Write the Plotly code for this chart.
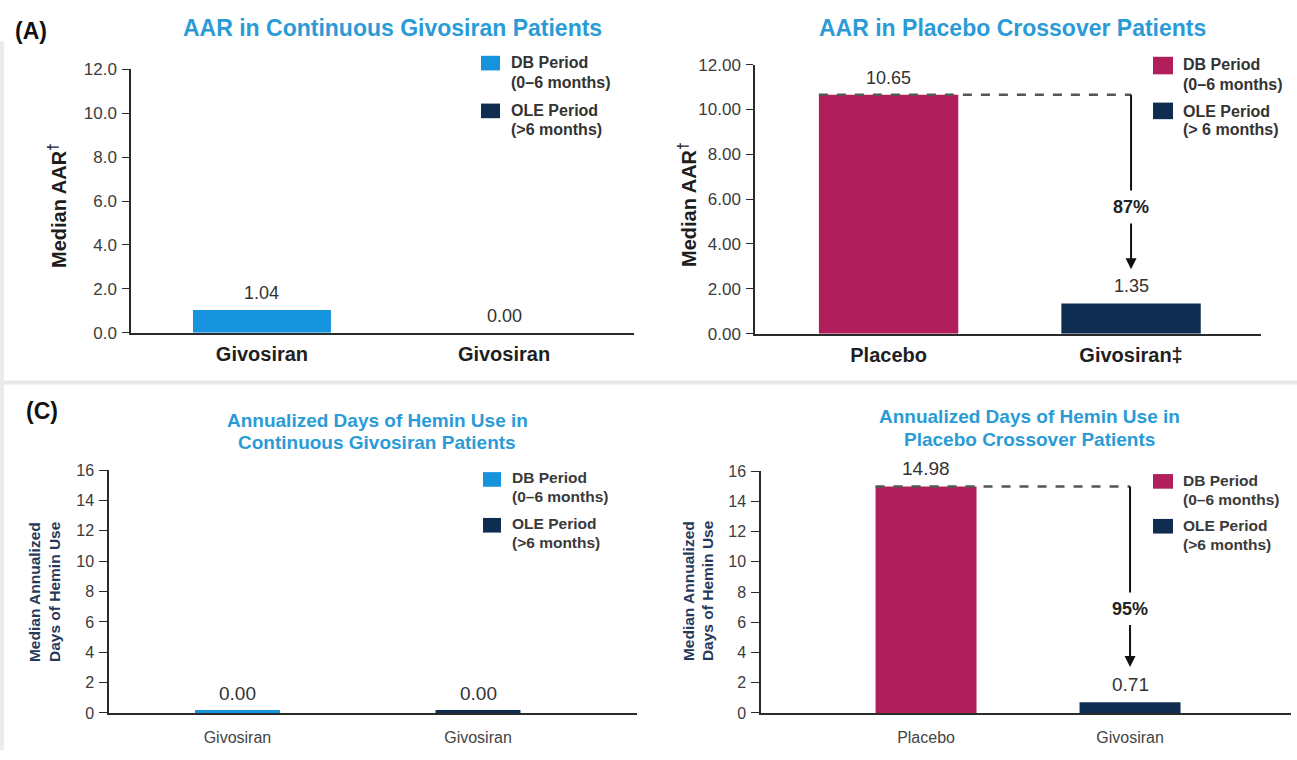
import plotly.graph_objects as go

W, H = 1297, 760

# ---------------- data ----------------
aar_cont_labels = ["Givosiran", "Givosiran"]
aar_cont_values = [1.04, 0.00]

aar_cross_labels = ["Placebo", "Givosiran‡"]
aar_cross_values = [10.65, 1.35]
aar_cross_reduction = "87%"

hemin_cont_labels = ["Givosiran", "Givosiran"]
hemin_cont_values = [0.00, 0.00]

hemin_cross_labels = ["Placebo", "Givosiran"]
hemin_cross_values = [14.98, 0.71]
hemin_cross_reduction = "95%"

db_label = ["DB Period", "(0–6 months)"]
ole_label = ["OLE Period", "(>6 months)"]
ole_label_spaced = ["OLE Period", "(> 6 months)"]

# ---------------- styling ----------------
FONT = "Liberation Sans, Arial, Helvetica, sans-serif"
BLUE = "#1593dc"
MAGENTA = "#b01f5c"
NAVY = "#0f2d50"
TITLE_BLUE = "#2a9bd6"
TICK_GREY = "#3c3c3c"


def fx(px):
    return px / W


def fy(py):
    return 1 - py / H


panels = [
    dict(key="", labels=aar_cont_labels, values=aar_cont_values, colors=[BLUE, NAVY],
         xdom=(131, 634), ydom=(332, 62), yr=12, dtick=2, fmt=".1f", xr=[-0.541, 1.537],
         bw=0.57, cat_font=dict(size=20, weight="bold", color="#1f1f1f"), tick_size=17,
         val_size=18, val_shift=17, standoff=2, ticklen=7),
    dict(key="2", labels=aar_cross_labels, values=aar_cross_values, colors=[MAGENTA, NAVY],
         xdom=(755, 1261), ydom=(333, 57), yr=12, dtick=2, fmt=".2f", xr=[-0.551, 1.536],
         bw=0.575, cat_font=dict(size=20, weight="bold", color="#1f1f1f"), tick_size=17,
         val_size=18, val_shift=17, standoff=2, ticklen=7),
    dict(key="3", labels=hemin_cont_labels, values=hemin_cont_values, colors=[BLUE, NAVY],
         xdom=(109, 637), ydom=(722, 473), yr=16, dtick=2, fmt="d", xr=[-0.534, 1.661],
         bw=0.353, cat_font=dict(size=16, color="#444444"), tick_size=16,
         val_size=19, val_shift=19, standoff=9, ticklen=8),
    dict(key="4", labels=hemin_cross_labels, values=hemin_cross_values, colors=[MAGENTA, NAVY],
         xdom=(761, 1291), ydom=(722, 474), yr=16, dtick=2, fmt="d", xr=[-0.809, 1.789],
         bw=0.495, cat_font=dict(size=16, color="#444444"), tick_size=16,
         val_size=19, val_shift=18, standoff=9, ticklen=8),
]

fig = go.Figure()
layout = dict(
    width=W, height=H, margin=dict(l=0, r=0, t=0, b=0),
    paper_bgcolor="white", plot_bgcolor="white", showlegend=False,
    barmode="overlay", font=dict(family=FONT),
)
annotations = []
shapes = []

for p in panels:
    k = p["key"]
    xa, ya = "x" + k, "y" + k
    positions = list(range(len(p["values"])))
    for pos, val, col in zip(positions, p["values"], p["colors"]):
        fig.add_trace(go.Bar(x=[pos], y=[val], width=p["bw"], marker_color=col,
                             marker_line_width=0, xaxis=xa, yaxis=ya, hoverinfo="skip"))
        annotations.append(dict(x=pos, y=val, xref=xa, yref=ya, text=f"{val:.2f}",
                                showarrow=False, yshift=p["val_shift"],
                                font=dict(size=p["val_size"], color="#333333")))
    layout["xaxis" + k] = dict(
        domain=[fx(p["xdom"][0]), fx(p["xdom"][1])], range=p["xr"], anchor=ya,
        tickvals=positions, ticktext=p["labels"], showline=True, linecolor="#2a2a2a",
        linewidth=2, ticks="", showgrid=False, zeroline=False, tickfont=p["cat_font"],
        ticklabelstandoff=p["standoff"], fixedrange=True,
    )
    layout["yaxis" + k] = dict(
        domain=[fy(p["ydom"][0]), fy(p["ydom"][1])], range=[0, p["yr"]], anchor=xa,
        dtick=p["dtick"], tick0=0, tickformat=p["fmt"], showline=True, linecolor="#2a2a2a",
        linewidth=1.5, ticks="outside", ticklen=p["ticklen"], tickcolor="#2a2a2a",
        tickwidth=1.2, showgrid=False, zeroline=False, fixedrange=True,
        tickfont=dict(size=p["tick_size"], color=TICK_GREY), ticklabelstandoff=2,
    )

# thin strips showing the zero-valued hemin bars of the continuous givosiran panel
hc = panels[2]
for pos, val, col in zip(range(len(hemin_cont_values)), hemin_cont_values, hc["colors"]):
    fig.add_trace(go.Scatter(x=[pos - hc["bw"] / 2, pos + hc["bw"] / 2], y=[val, val],
                             mode="lines", line=dict(color=col, width=6), xaxis="x3",
                             yaxis="y3", hoverinfo="skip", cliponaxis=False))


# ---------- reduction brackets (dashed reference + arrow) ----------
def bracket(p, reduction, arrow_gap_px, label_py):
    k = p["key"]
    xa, ya = "x" + k, "y" + k
    top = p["values"][0]
    low = p["values"][1]
    y0px, y1px = p["ydom"]
    px_per_unit = (y0px - y1px) / p["yr"]
    end = low + arrow_gap_px / px_per_unit
    label_y = (y0px - label_py) / px_per_unit
    shapes.append(dict(type="line", xref=xa, yref=ya, x0=-p["bw"] / 2, x1=1, y0=top, y1=top,
                       line=dict(color="#555555", width=2.5, dash="dash")))
    shapes.append(dict(type="line", xref=xa, yref=ya, x0=1, x1=1, y0=top, y1=label_y,
                       line=dict(color="#111111", width=2)))
    annotations.append(dict(x=1, y=end, xref=xa, yref=ya, ax=1, ay=label_y, axref=xa,
                            ayref=ya, text=reduction, showarrow=True, arrowhead=2,
                            arrowsize=1.1, arrowwidth=2, arrowcolor="#111111",
                            bgcolor="white", borderpad=6,
                            font=dict(size=18, weight="bold", color="#222222")))


bracket(panels[1], aar_cross_reduction, 35, 203)
bracket(panels[3], hemin_cross_reduction, 36, 615)


# ---------- titles ----------
def text(x, y, s, size, color, bold=True, angle=0, xanchor="center"):
    annotations.append(dict(x=fx(x), y=fy(y), xref="paper", yref="paper", text=s,
                            showarrow=False, textangle=angle, xanchor=xanchor,
                            yanchor="middle",
                            font=dict(size=size, color=color,
                                      weight="bold" if bold else "normal")))


text(13, 23, "(A)", 23, "#111111", xanchor="left")
text(24, 412, "(C)", 23, "#111111", xanchor="left")

text(392, 20, "AAR in Continuous Givosiran Patients", 23, TITLE_BLUE)
text(1012, 20, "AAR in Placebo Crossover Patients", 23, TITLE_BLUE)
text(377, 422, "Annualized Days of Hemin Use in", 19, TITLE_BLUE)
text(377, 445, "Continuous Givosiran Patients", 19, TITLE_BLUE)
text(1029, 418, "Annualized Days of Hemin Use in", 19, TITLE_BLUE)
text(1029, 442, "Placebo Crossover Patients", 19, TITLE_BLUE)

# axis titles
text(58, 202, "Median AAR<sup>†</sup>", 20, "#1e1e1e", angle=-90)
text(688, 201, "Median AAR<sup>†</sup>", 20, "#1e1e1e", angle=-90)
text(34, 598, "Median Annualized", 15.5, "#26395a", angle=-90)
text(54, 598, "Days of Hemin Use", 15.5, "#26395a", angle=-90)
text(688, 597, "Median Annualized", 15.5, "#26395a", angle=-90)
text(707, 597, "Days of Hemin Use", 15.5, "#26395a", angle=-90)


# ---------- legends ----------
def legend_entry(x0, y0, w, h, color, lines, tx, ty, fsize, fcolor, gap):
    shapes.append(dict(type="rect", xref="paper", yref="paper", x0=fx(x0), x1=fx(x0 + w),
                       y0=fy(y0 + h), y1=fy(y0), fillcolor=color, line=dict(width=0)))
    for i, line in enumerate(lines):
        text(tx, ty + i * gap, line, fsize, fcolor, xanchor="left")


legend_entry(481, 48, 19, 15, BLUE, db_label, 509, 55, 16, "#333333", 20)
legend_entry(481, 97, 19, 15, NAVY, ole_label, 509, 104, 16, "#333333", 20)
legend_entry(1153, 49, 20, 18, MAGENTA, db_label, 1181, 57, 16, "#333333", 20)
legend_entry(1153, 96, 20, 17, NAVY, ole_label_spaced, 1181, 105, 16, "#333333", 19)
legend_entry(483, 475, 18, 15, BLUE, db_label, 510, 481, 15.5, "#3a3a3a", 19)
legend_entry(483, 522, 18, 15, NAVY, ole_label, 510, 528, 15.5, "#3a3a3a", 19)
legend_entry(1153, 477, 20, 15, MAGENTA, db_label, 1181, 484, 15.5, "#3a3a3a", 19)
legend_entry(1153, 523, 20, 15, NAVY, ole_label, 1181, 530, 15.5, "#3a3a3a", 19)

# faint frame separating the two rows of panels
shapes.append(dict(type="rect", xref="paper", yref="paper", x0=0, x1=1, y0=fy(385), y1=fy(381),
                   fillcolor="#e8e8e8", line=dict(width=0), layer="below"))
shapes.append(dict(type="rect", xref="paper", yref="paper", x0=0, x1=fx(4), y0=0, y1=fy(33),
                   fillcolor="#ebebeb", line=dict(width=0), layer="below"))

layout["annotations"] = annotations
layout["shapes"] = shapes
fig.update_layout(**layout)

fig.write_html("out.html", config={"displayModeBar": False})
